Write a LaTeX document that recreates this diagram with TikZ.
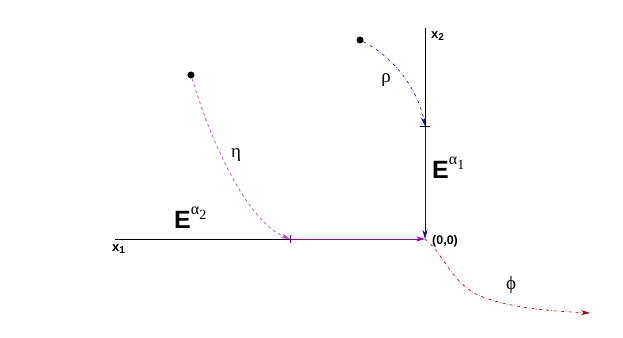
\documentclass[tikz,border=0pt]{standalone}
\usepackage{fontspec}
\setmainfont{Liberation Sans}
\newfontfamily\gr{Liberation Serif}
\usetikzlibrary{arrows.meta}
\definecolor{mag}{RGB}{150,0,160}
\definecolor{magl}{RGB}{190,70,200}
\definecolor{blu}{RGB}{10,10,160}
\definecolor{dred}{RGB}{160,0,0}
\tikzset{
  axis/.style={line width=0.6pt, black},
  tip/.style={-{Stealth[length=9pt,width=5pt]}},
  dotn/.style={circle, fill=black, inner sep=0pt, minimum size=7pt},
  lbl/.style={inner sep=0pt, anchor=base west},
  greek/.style={inner sep=0pt, font=\gr\fontsize{19}{19}\selectfont},
  axlbl/.style={lbl, font=\bfseries\fontsize{13}{13}\selectfont},
}
\newcommand{\Elab}[1]{{\fontsize{25}{25}\selectfont\bfseries E}\raisebox{14pt}{\fontsize{16}{16}\gr α\raisebox{-5pt}{\fontsize{14}{14}\selectfont #1}}}
\newcommand{\axsub}[1]{\raisebox{-2.5pt}{\fontsize{10}{10}\selectfont #1}}
\begin{document}
\begin{tikzpicture}[x=1pt,y=-1pt]
\useasboundingbox (0,0) rectangle (623,337);
% key points
\coordinate (O) at (425,239);
\coordinate (xa) at (115,239);
\coordinate (ta) at (290,239);
\coordinate (xb) at (425,28);
\coordinate (tb) at (425,126);
\coordinate (fend) at (590,313);
\node[dotn] (d1) at (191,75) {};
\node[dotn] (d2) at (360,40) {};
% axes
\draw[axis] (xa) -- (ta);
\draw[axis] (xb) -- (tb);
\draw[mag, line width=0.6pt, tip] (ta) -- (O);
\draw[blu, line width=0.6pt, tip] (tb) -- (O);
\draw[mag, line width=0.6pt] ([yshift=-4pt]ta) -- ([yshift=4pt]ta);
\draw[black, line width=0.6pt] ([xshift=-5pt]tb) -- ([xshift=5pt]tb);
% paths
\draw[magl, dashed, line width=0.7pt, tip] (d1) .. controls (212,145) and (248,222) .. (ta);
\draw[blu, dash dot, line width=0.6pt, tip] (d2) .. controls (395,58) and (418,90) .. (tb);
\draw[dred, dash dot, line width=0.6pt, tip] (O) .. controls (445,255) and (450,282) .. (480,296) .. controls (510,308) and (550,311) .. (fend);
% labels
\node[axlbl] (lx1) at (112,251) {x\axsub{1}};
\node[axlbl] (lx2) at (431,38) {x\axsub{2}};
\node[lbl, font=\bfseries\fontsize{12.5}{12.5}\selectfont] (lO) at (432,244) {(0,0)};
\node[lbl] (E1) at (432,178) {\Elab{1}};
\node[lbl] (E2) at (174,228) {\Elab{2}};
\node[greek] (eta) at (236,155) {η};
\node[greek] (rho) at (386,80) {ρ};
\node[greek] (phi) at (511,285) {ϕ};
\end{tikzpicture}
\end{document}
